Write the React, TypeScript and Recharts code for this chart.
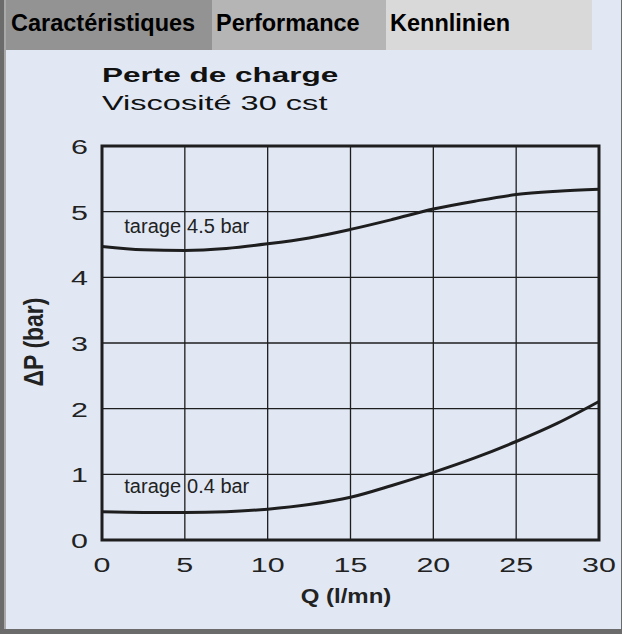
import React from 'react';
import {
  LineChart,
  Line,
  XAxis,
  YAxis,
  CartesianGrid,
  ReferenceArea,
  ReferenceDot,
} from 'recharts';

// ---- data ----
const flowQ = [0, 2.5, 5, 7.5, 10, 12.5, 15, 17.5, 20, 22.5, 25, 27.5, 30];
const tarage45 = [4.47, 4.42, 4.41, 4.44, 4.51, 4.6, 4.73, 4.88, 5.04, 5.16, 5.26, 5.31, 5.34];
const tarage04 = [0.43, 0.42, 0.42, 0.43, 0.47, 0.54, 0.65, 0.83, 1.03, 1.25, 1.5, 1.78, 2.11];
const xTicks = [0, 5, 10, 15, 20, 25, 30];
const yTicks = [0, 1, 2, 3, 4, 5, 6];
const tabLabels = ['Caractéristiques', 'Performance', 'Kennlinien'];
const tabColors = ['#939393', '#b5b5b5', '#d9d9d9'];
const tabWidths = [206, 174, 206];
const chartTitle = 'Perte de charge';
const chartSubtitle = 'Viscosité 30 cst';
const xLabel = 'Q (l/mn)';
const yLabel = 'ΔP (bar)';
const curveLabels = [
  { x: 4.77, y: 4.67, left: 'tarage', right: '4.5 bar' },
  { x: 4.77, y: 0.71, left: 'tarage', right: '0.4 bar' },
];

const data = flowQ.map((q, i) => ({ q, high: tarage45[i], low: tarage04[i] }));

const FONT = 'Liberation Sans, Arial, Helvetica, sans-serif';
const BG = '#e1e8f4';
const INK = '#1e1e1e';
const TXT = '#222';
const STRETCH = 1.45;

const XTick = (props: any) => {
  const { x, y, payload } = props;
  return (
    <text
      transform={`translate(${x},${y + 32}) scale(${STRETCH},1)`}
      textAnchor="middle"
      fontSize={21}
      fill={TXT}
      fontFamily={FONT}
    >
      {payload.value}
    </text>
  );
};

const YTick = (props: any) => {
  const { x, y, payload } = props;
  return (
    <text
      transform={`translate(${x},${y + 8}) scale(${STRETCH},1)`}
      textAnchor="end"
      fontSize={21}
      fill={TXT}
      fontFamily={FONT}
    >
      {payload.value}
    </text>
  );
};

const XLabel = () => (
  <text
    transform="translate(346,603) scale(1.2,1)"
    textAnchor="middle"
    fontSize={20}
    fontWeight="bold"
    fill={TXT}
    fontFamily={FONT}
  >
    {xLabel}
  </text>
);

const YLabel = () => (
  <text
    transform="translate(33,342) scale(1.2,1) rotate(-90)"
    textAnchor="middle"
    dominantBaseline="central"
    fontSize={23}
    fontWeight="bold"
    fill={TXT}
    fontFamily={FONT}
  >
    {yLabel}
  </text>
);

const makeCurveLabel = (left: string, right: string) => (p: any) => {
  const vb = p.viewBox || {};
  const cx = vb.x + (vb.width || 0) / 2;
  const cy = vb.y + (vb.height || 0) / 2;
  return (
    <g>
      <text x={cx} y={cy} textAnchor="end" fontSize={20} fill={TXT} fontFamily={FONT}>
        {left}
      </text>
      <text x={cx + 6} y={cy} textAnchor="start" fontSize={20} fill={TXT} fontFamily={FONT}>
        {right}
      </text>
    </g>
  );
};

export default function App() {
  return (
    <div
      style={{
        position: 'absolute',
        left: 0,
        top: 0,
        width: 622,
        height: 634,
        background: '#6b6b6b',
        fontFamily: FONT,
        overflow: 'hidden',
      }}
    >
      <div style={{ position: 'absolute', left: 4, top: 0, width: 2, height: 629, background: '#a9a9a9' }} />
      <div
        style={{
          position: 'absolute',
          left: 6,
          top: 0,
          width: 615,
          height: 629,
          background: BG,
        }}
      />
      {/* tabs */}
      <div style={{ position: 'absolute', left: 6, top: 0, height: 50, display: 'flex' }}>
        {tabLabels.map((t, i) => (
          <div
            key={t}
            style={{
              width: tabWidths[i],
              height: 50,
              background: tabColors[i],
              color: '#000',
              fontWeight: 'bold',
              fontSize: 23.5,
              lineHeight: '46px',
              paddingLeft: i === 0 ? 5 : 4,
              boxSizing: 'border-box',
              whiteSpace: 'nowrap',
            }}
          >
            {t}
          </div>
        ))}
      </div>
      {/* titles */}
      <svg
        width={622}
        height={130}
        style={{ position: 'absolute', left: 0, top: 0, overflow: 'visible' }}
      >
        <text
          transform="translate(102,82) scale(1.5,1)"
          fontSize={21}
          fontWeight="bold"
          fill="#111"
          fontFamily={FONT}
        >
          {chartTitle}
        </text>
        <text
          transform="translate(102,109.5) scale(1.55,1)"
          fontSize={21}
          fill="#111"
          fontFamily={FONT}
        >
          {chartSubtitle}
        </text>
      </svg>
      <div style={{ position: 'absolute', left: 0, top: 0 }}>
        <LineChart
          width={622}
          height={634}
          data={data}
          margin={{ top: 146, right: 23, bottom: 64, left: 0 }}
        >
          <CartesianGrid stroke={INK} strokeWidth={1.3} vertical horizontal />
          <XAxis
            dataKey="q"
            type="number"
            domain={[0, 30]}
            ticks={xTicks}
            height={30}
            tickSize={0}
            tickMargin={0}
            axisLine={false}
            tick={<XTick />}
            label={{ content: <XLabel /> }}
          />
          <YAxis
            type="number"
            domain={[0, 6]}
            ticks={yTicks}
            width={102}
            tickSize={0}
            tickMargin={14}
            axisLine={false}
            tick={<YTick />}
            label={{ content: <YLabel /> }}
          />
          <ReferenceArea
            x1={0}
            x2={30}
            y1={0}
            y2={6}
            fill="none"
            stroke={INK}
            strokeWidth={3}
            ifOverflow="visible"
          />
          <Line
            dataKey="high"
            type="monotone"
            stroke={INK}
            strokeWidth={3}
            dot={false}
            isAnimationActive={false}
          />
          <Line
            dataKey="low"
            type="monotone"
            stroke={INK}
            strokeWidth={3}
            dot={false}
            isAnimationActive={false}
          />
          {curveLabels.map((c) => (
            <ReferenceDot
              key={c.right}
              x={c.x}
              y={c.y}
              r={0}
              fill="none"
              stroke="none"
              ifOverflow="visible"
              label={{ content: makeCurveLabel(c.left, c.right) }}
            />
          ))}
        </LineChart>
      </div>
    </div>
  );
}
